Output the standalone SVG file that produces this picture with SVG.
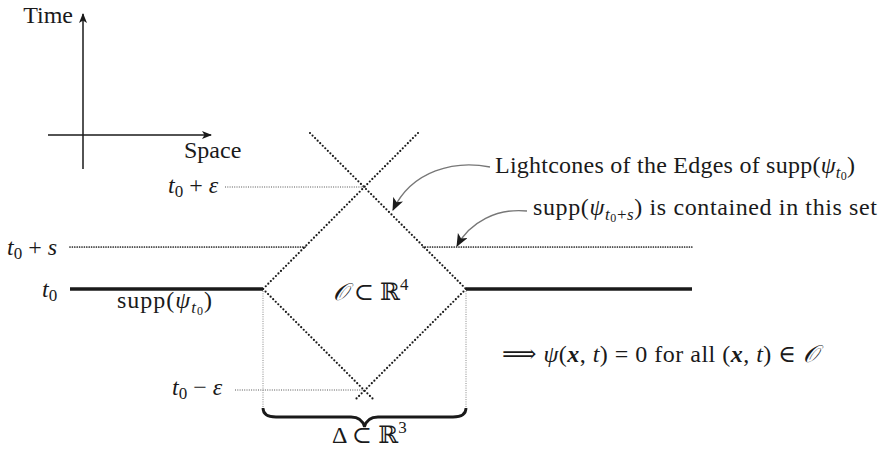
<svg xmlns="http://www.w3.org/2000/svg" width="880" height="450" viewBox="0 0 880 450">
<style>
text{font-family:"Liberation Serif","DejaVu Serif","DejaVu Sans",serif;fill:#1a1a1a;font-size:24px}
.ax{stroke:#1a1a1a;stroke-width:1.5;fill:none}
.thick{stroke:#1a1a1a;stroke-width:3.5;fill:none}
.dots{stroke:#1a1a1a;stroke-width:2.2;stroke-linecap:round;stroke-dasharray:0 3.6;fill:none}
.fine{stroke:#1a1a1a;stroke-width:1.7;stroke-linecap:round;stroke-dasharray:0 2.4;fill:none}
.faint{stroke:#888;stroke-width:1;stroke-dasharray:1 1.3;fill:none}
.lead{stroke:#777;stroke-width:1.4;fill:none}
.i{font-style:italic}
.b{font-weight:bold;font-style:italic}
.s{font-size:17px}
.ss{font-size:12px}
</style>
<defs>
<marker id="ah" viewBox="0 0 10 8" refX="9" refY="4" markerWidth="10" markerHeight="8" markerUnits="userSpaceOnUse" orient="auto">
<path d="M0,0 L10,4 L0,8 L2.5,4 z" fill="#1a1a1a"/>
</marker>
<marker id="la" viewBox="0 0 12 10" refX="11" refY="5" markerWidth="13" markerHeight="11" markerUnits="userSpaceOnUse" orient="auto">
<path d="M0,0 L12,5 L0,10 L3,5 z" fill="#1a1a1a"/>
</marker>
</defs>

<g id="axes">
<line class="ax" x1="83" y1="169" x2="83" y2="14" marker-end="url(#ah)"/>
<line class="ax" x1="48" y1="135" x2="211" y2="135" marker-end="url(#ah)"/>
<text x="73" y="23" font-size="19" text-anchor="end">Time</text>
<text x="184" y="158" font-size="19">Space</text>
</g>

<g id="connectors">
<line class="thick" x1="70" y1="289" x2="263" y2="289"/>
<line class="thick" x1="466" y1="289" x2="692" y2="289"/>
<line class="fine" x1="70" y1="247" x2="307" y2="247"/>
<line class="fine" x1="423" y1="247" x2="692" y2="247"/>
<line class="dots" x1="310" y1="133" x2="466" y2="289"/>
<line class="dots" x1="418" y1="133" x2="263" y2="289"/>
<line class="dots" x1="263" y1="289" x2="373" y2="399"/>
<line class="dots" x1="466" y1="289" x2="356" y2="399"/>
<line class="faint" x1="225" y1="187" x2="364" y2="187" style="stroke:#555"/>
<line class="faint" x1="235" y1="390" x2="364" y2="390" style="stroke:#555"/>
<line class="faint" x1="263" y1="291" x2="263" y2="408"/>
<line class="faint" x1="466" y1="291" x2="466" y2="408"/>
<path d="M263,408 Q263,417 276,417 L351,417 Q362,417 364.5,427 Q367,417 378,417 L453,417 Q466,417 466,408" stroke="#1a1a1a" stroke-width="2.8" fill="none"/>
<path class="lead" d="M490,167 C455,160 412,170 393,210" marker-end="url(#la)"/>
<path class="lead" d="M527,211 C497,208 470,222 457,246" marker-end="url(#la)"/>
</g>

<g id="labels-left">
<text x="168" y="193"><tspan class="i">t</tspan><tspan class="s" dy="4">0</tspan><tspan dy="-4"> + </tspan><tspan class="i">ε</tspan></text>
<text x="7" y="255"><tspan class="i">t</tspan><tspan class="s" dy="4">0</tspan><tspan dy="-4"> + </tspan><tspan class="i">s</tspan></text>
<text x="42" y="297"><tspan class="i">t</tspan><tspan class="s" dy="4">0</tspan></text>
<text x="172" y="395"><tspan class="i">t</tspan><tspan class="s" dy="4">0</tspan><tspan dy="-4"> − </tspan><tspan class="i">ε</tspan></text>
<text x="117" y="308" textLength="95">supp(<tspan class="i">ψ</tspan><tspan class="s i" dy="5">t</tspan><tspan class="ss" dy="2">0</tspan><tspan dy="-7">)</tspan></text>
</g>

<g id="region-O">
<text x="333" y="300"><tspan class="i">𝒪</tspan> ⊂ ℝ<tspan class="s" dy="-10">4</tspan></text>
</g>

<g id="region-Delta">
<text x="332" y="443">Δ ⊂ ℝ<tspan class="s" dy="-10">3</tspan></text>
</g>

<g id="label-lightcones">
<text x="495" y="173" textLength="360">Lightcones of the Edges of supp(<tspan class="i">ψ</tspan><tspan class="s i" dy="5">t</tspan><tspan class="ss" dy="2">0</tspan><tspan dy="-7">)</tspan></text>
</g>

<g id="label-supp">
<text x="533" y="215" textLength="344">supp(<tspan class="i">ψ</tspan><tspan class="s i" dy="5">t</tspan><tspan class="ss" dy="2">0</tspan><tspan class="s" dy="-2">+</tspan><tspan class="s i">s</tspan><tspan dy="-5">) is contained in this set</tspan></text>
</g>

<g id="label-implies">
<text x="502" y="362" textLength="316">⟹ <tspan class="i">ψ</tspan>(<tspan class="b">x</tspan>, <tspan class="i">t</tspan>) = 0 for all (<tspan class="b">x</tspan>, <tspan class="i">t</tspan>) ∈ <tspan class="i">𝒪</tspan></text>
</g>
</svg>
